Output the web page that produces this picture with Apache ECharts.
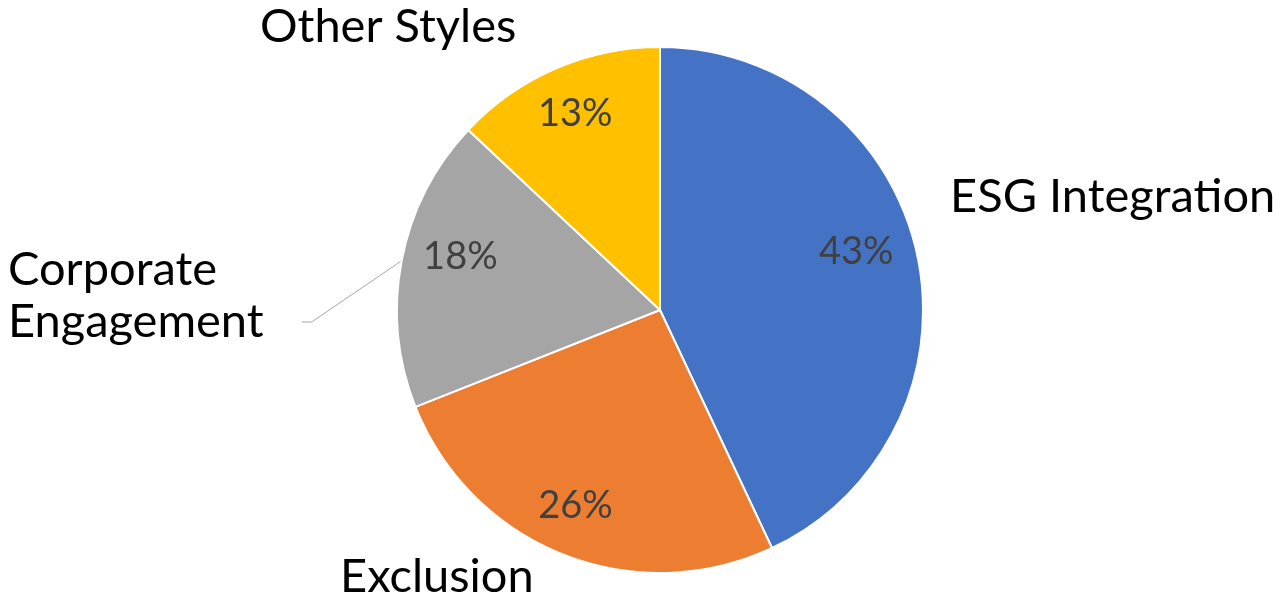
<!DOCTYPE html>
<html>
<head>
<meta charset="utf-8">
<script src="https://cdn.jsdelivr.net/npm/echarts@6/dist/echarts.min.js"></script>
<style>
  html, body { margin: 0; padding: 0; background: #fff; }
  #chart { width: 1277px; height: 600px; }
</style>
</head>
<body>
<div id="chart"></div>
<script>
const categories = ['ESG Integration', 'Exclusion', 'Corporate Engagement', 'Other Styles'];
const shares = [43, 26, 18, 13];
const colors = ['#4472C4', '#ED7D31', '#A5A5A5', '#FFC000'];

// where each category name sits (left edge, vertical middle of its box)
const namePos = [
  [950, 197],
  [340, 577],
  [8, 322],
  [260, 27]
];
// small nudges of the percentage labels
const pctShift = [
  [-12, -12],
  [-6, -3],
  [10, -13],
  [0, 0]
];

const FONT = 'Lato';
const CENTER = [660, 310];
const R = 263;

const pieData = categories.map((name, i) => {
  const item = {
    name: name,
    value: shares[i],
    itemStyle: { color: colors[i] },
    labelLine: { show: false }
  };
  if (name === 'Corporate Engagement') {
    // extra box space so the leader line meets the label where Excel puts it
    item.label = { padding: [0, 38, 0, 0] };
    item.labelLine = { show: true };
  }
  return item;
});

const chart = echarts.init(document.getElementById('chart'));

chart.setOption({
  animation: false,
  series: [
    {
      // slices + category names
      type: 'pie',
      center: CENTER,
      radius: [0, R],
      startAngle: 90,
      clockwise: true,
      data: pieData,
      itemStyle: { borderColor: '#fff', borderWidth: 2 },
      label: {
        show: true,
        position: 'outside',
        color: '#000',
        fontFamily: FONT,
        fontSize: 47,
        lineHeight: 52,
        // long name wraps to two lines; trailing blank line lowers the line anchor
        formatter: p => (p.name.length > 16 ? p.name.replace(' ', '\n') + '\n ' : p.name)
      },
      labelLine: {
        lineStyle: { color: '#A6A6A6', width: 1 },
        length: 10,
        length2: 10
      },
      labelLayout: function (params) {
        const pos = namePos[params.dataIndex];
        return { x: pos[0], y: pos[1], align: 'left', verticalAlign: 'middle' };
      },
      emphasis: { disabled: true }
    },
    {
      // transparent ring only used to place percentages at ~0.8 R
      type: 'pie',
      center: CENTER,
      radius: [R * 0.6, R],
      startAngle: 90,
      clockwise: true,
      silent: true,
      data: categories.map((name, i) => ({ name: name, value: shares[i] })),
      itemStyle: { color: 'rgba(0,0,0,0)' },
      label: {
        show: true,
        position: 'inside',
        color: '#404040',
        fontFamily: FONT,
        fontSize: 38,
        formatter: p => p.value + '%'
      },
      labelLayout: function (params) {
        const s = pctShift[params.dataIndex];
        return { dx: s[0], dy: s[1] };
      },
      labelLine: { show: false },
      emphasis: { disabled: true }
    }
  ]
});
</script>
</body>
</html>
